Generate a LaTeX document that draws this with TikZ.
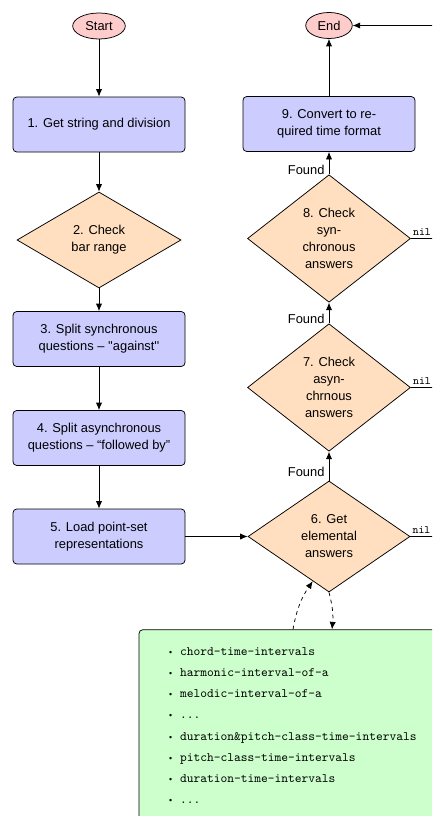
\documentclass[tikz,border=0pt]{standalone}
\usepackage{fontspec}
\setmainfont{Liberation Sans}
\usetikzlibrary{arrows.meta,shapes,positioning}
\tikzstyle{terminal}=[ellipse,draw,fill=red!20,minimum height=20.8pt,
                      inner xsep=4pt,inner ysep=0pt]
\tikzstyle{process}=[rectangle,rounded corners=3pt,draw,fill=blue!20,
                     minimum width=137.6pt,minimum height=44pt,align=center]
\tikzstyle{decision}=[diamond,draw,fill=orange!25,inner sep=0pt,align=center]
\tikzstyle{listbox}=[rectangle,rounded corners=3pt,draw,fill=green!20,
                     text width=256pt,inner xsep=24pt,inner ysep=14pt,align=left,
                     font=\ttfamily\fontsize{10.3}{17}\selectfont]
\tikzstyle{lookup}=[->,semithick,dashed]
\tikzstyle{nil}=[anchor=south west,inner xsep=1.5pt,inner ysep=2.5pt,
                 font=\ttfamily\fontsize{9}{10}\selectfont]
\newcommand{\listitem}[1]{\makebox[8.8pt][l]{\rmfamily\scriptsize\textbullet}#1}
\newcommand{\qs}{\textquotesingle\textquotesingle}

\begin{document}
\begin{tikzpicture}[->,>={Latex[length=6pt,width=5pt]},node distance=78.8pt,
                    semithick,font=\fontsize{10.3}{13.6}\selectfont]

  \useasboundingbox (0,0) rectangle (345.6pt,-652.8pt);
  \clip (0,0) rectangle (345.6pt,-652.8pt);

	\node[terminal] (start) at (79.2pt,-20.8pt) {Start};
	\node[process] (getstr) [below of=start] {1. Get string and division};
	\node[decision,minimum width=131.2pt,minimum height=76.8pt] (barrange)
	      [node distance=92.4pt,below of=getstr] {2. Check\\bar range};
	\node[process] (splitsync) [node distance=79.2pt,below of=barrange]
	      {3. Split synchronous\\questions -- \qs against\qs};
	\node[process] (splitasync) [node distance=79.2pt,below of=splitsync]
	      {4. Split asynchronous\\questions -- ``followed by''};
	\node[process] (loadpts) [below of=splitasync] {5. Load point-set\\representations};
	\node[decision,minimum width=129.6pt,minimum height=88.8pt] (elemental)
	      [node distance=184pt,right of=loadpts] {6. Get\\elemental\\answers};
	\node[decision,minimum width=130.4pt,minimum height=102pt] (asyncans)
	      [node distance=119.2pt,above of=elemental] {7. Check\\asyn-\\chrnous\\answers};
	\node[decision,minimum width=130.4pt,minimum height=102pt] (syncans)
	      [node distance=119.2pt,above of=asyncans] {8. Check\\syn-\\chronous\\answers};
	\node[process] (convert) [node distance=91.6pt,above of=syncans]
	      {9. Convert to re-\\quired time format};
	\node[terminal] (end) [above of=convert] {End};
	\coordinate[right=80pt of end] (rail);

	\node[listbox,anchor=north] (fnlist) [below=29.6pt of elemental] {%
		\listitem{chord-time-intervals}\\
		\listitem{harmonic-interval-of-a}\\
		\listitem{melodic-interval-of-a}\\
		\listitem{...}\\
		\listitem{duration\&pitch-class-time-intervals}\\
		\listitem{pitch-class-time-intervals}\\
		\listitem{duration-time-intervals}\\
		\listitem{...}};

  \path (start) edge (getstr)
        (getstr) edge (barrange)
        (barrange) edge (splitsync)
        (splitsync) edge (splitasync)
        (splitasync) edge (loadpts)
        (loadpts) edge (elemental)
        (elemental) edge node[left,pos=0.3] {Found} (asyncans)
        (asyncans) edge node[left,pos=0.2] {Found} (syncans)
        (syncans) edge node[left,pos=0.2] {Found} (convert)
        (convert) edge (end)
        (rail) edge (end);

  \draw[-] (elemental.east) node[nil] {nil} -| (rail);
  \draw[-] (asyncans.east) node[nil] {nil} -| (rail);
  \draw[-] (syncans.east) node[nil] {nil} -| (rail);

  \draw[lookup] ([xshift=-28.8pt]fnlist.north) to[bend left=12] (elemental.250);
  \draw[lookup] (elemental.south) to[bend left=10] ([xshift=2.4pt]fnlist.north);

\end{tikzpicture}
\end{document}
